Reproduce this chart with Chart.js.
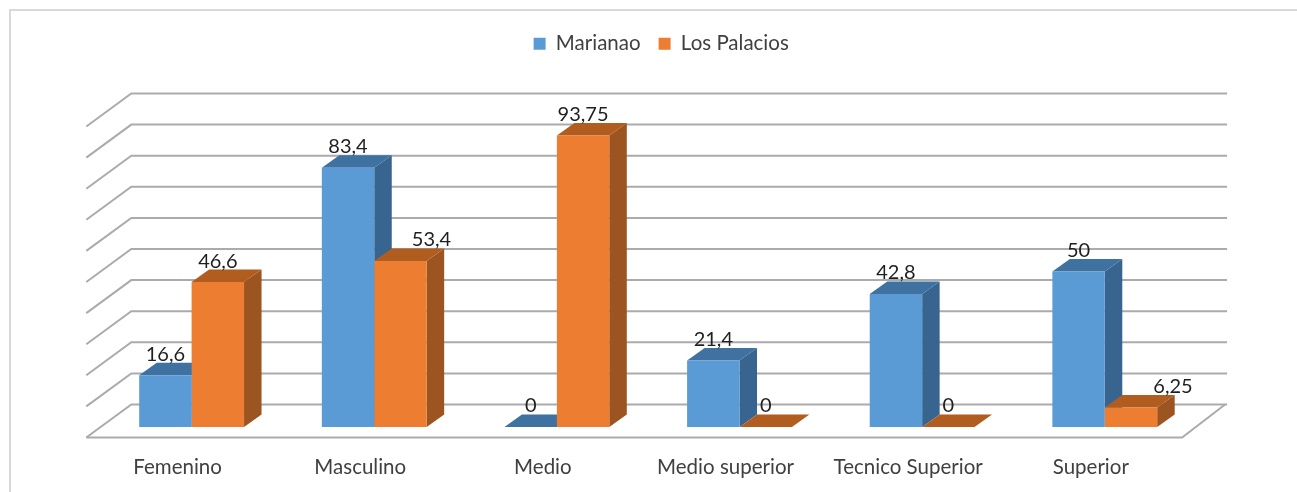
<!DOCTYPE html>
<html>
<head>
<meta charset="utf-8">
<title>Marianao / Los Palacios</title>
<script src="https://cdn.jsdelivr.net/npm/chart.js@4"></script>
<style>
  html, body { margin: 0; background: #fff; }
  canvas { display: block; }
</style>
</head>
<body>
<canvas id="myChart" width="1297" height="492"></canvas>
<script>
const categories = ["Femenino", "Masculino", "Medio", "Medio superior", "Tecnico Superior", "Superior"];
const marianao = [16.6, 83.4, 0, 21.4, 42.8, 50];
const losPalacios = [46.6, 53.4, 93.75, 0, 0, 6.25];
const yTicks = [0, 10, 20, 30, 40, 50, 60, 70, 80, 90, 100];

// faces of the 3D look
const blue = { front: "#5b9bd5", side: "#38658f", top: "#3f71a1" };
const orange = { front: "#ed7d31", side: "#9c5420", top: "#b15d20" };
const faces = [blue, orange];
const barDx = 17.5, barDy = 12.5;
const padTop = 15.5;

// these two labels were dragged to the right in the original
const labelShift = { 53.4: 31, 6.25: 42 };

function poly(ctx, pts, color) {
  ctx.fillStyle = color;
  ctx.beginPath();
  pts.forEach((p, i) => (i ? ctx.lineTo(p[0], p[1]) : ctx.moveTo(p[0], p[1])));
  ctx.closePath();
  ctx.fill();
}

const plot3d = {
  id: "plot3d",
  beforeInit(chart) {
    // extra room under the legend
    const fit = chart.legend.fit;
    chart.legend.fit = function () {
      fit.call(this);
      this.height = 116 - padTop;
    };
  },
  afterLayout(chart) {
    // legend is not centred on the page in the original
    chart.legend.left += 13;
    chart.legend.right += 13;
  },
  beforeDatasetsDraw(chart) {
    const ctx = chart.ctx, area = chart.chartArea, y = chart.scales.y;
    ctx.save();

    // outer frame
    ctx.strokeStyle = "#d9d9d9";
    ctx.lineWidth = 2;
    ctx.beginPath();
    ctx.moveTo(10, 492);
    ctx.lineTo(10, 10);
    ctx.lineTo(1297, 10);
    ctx.stroke();

    // walls and floor
    const fl = area.left - 14, fr = area.right - 14;
    const bl = area.left + 31, br = area.right + 31;
    ctx.strokeStyle = "#ababab";
    ctx.lineWidth = 2;
    yTicks.forEach(t => {
      const py = y.getPixelForValue(t);
      ctx.beginPath();
      ctx.moveTo(fl, py + 10.5);
      ctx.lineTo(bl, py - 22.5);
      ctx.lineTo(br, py - 22.5);
      ctx.stroke();
    });
    const y0 = y.getPixelForValue(0);
    ctx.beginPath();
    ctx.moveTo(fl, y0 + 10.5);
    ctx.lineTo(fr, y0 + 10.5);
    ctx.lineTo(br - 2, y0 - 22.5);
    ctx.stroke();

    // side and top faces, the front faces are the real bars
    chart.data.datasets.forEach((ds, i) => {
      chart.getDatasetMeta(i).data.forEach(bar => {
        const l = bar.x - bar.width / 2, r = bar.x + bar.width / 2;
        poly(ctx, [[r, bar.y], [r + barDx, bar.y - barDy], [r + barDx, bar.base - barDy], [r, bar.base]], faces[i].side);
        poly(ctx, [[l, bar.y], [l + barDx, bar.y - barDy], [r + barDx, bar.y - barDy], [r, bar.y]], faces[i].top);
      });
    });
    ctx.restore();
  },
  afterDatasetsDraw(chart) {
    const ctx = chart.ctx;
    ctx.save();
    ctx.font = "20px Lato";
    ctx.fillStyle = "#1f1f1f";
    ctx.textAlign = "center";
    ctx.textBaseline = "middle";
    chart.data.datasets.forEach((ds, i) => {
      chart.getDatasetMeta(i).data.forEach((bar, j) => {
        const v = ds.data[j];
        ctx.fillText(String(v).replace(".", ","), bar.x + (labelShift[v] || 0), bar.y - 21);
      });
    });
    ctx.restore();
  }
};

const ctx = document.getElementById("myChart").getContext("2d");

new Chart(ctx, {
  type: "bar",
  data: {
    labels: categories,
    datasets: [
      { label: "Marianao", data: marianao, backgroundColor: blue.front },
      { label: "Los Palacios", data: losPalacios, backgroundColor: orange.front },
    ],
  },
  options: {
    responsive: false,
    animation: false,
    layout: { padding: { left: 100.3, right: 100.9, top: padTop } },
    categoryPercentage: 0.574,
    barPercentage: 1,
    plugins: {
      tooltip: { enabled: false },
      legend: {
        position: "top",
        onClick: null,
        labels: {
          boxWidth: 12,
          boxHeight: 12,
          padding: 18,
          color: "#404040",
          font: { family: "Lato", size: 20.5 },
        },
      },
    },
    scales: {
      x: {
        grid: { display: false },
        border: { display: false },
        afterFit(s) { s.height = 65; },
        ticks: {
          color: "#404040",
          font: { family: "Lato", size: 20.5 },
          padding: 20.5,
          labelOffset: -14,
          autoSkip: false,
          maxRotation: 0,
        },
      },
      y: {
        min: 0,
        max: 100,
        grid: { display: false, drawTicks: false },
        border: { display: false },
        afterFit(s) { s.width = 0; },
        ticks: { display: false, stepSize: 10 },
      },
    },
  },
  plugins: [plot3d],
});
</script>
</body>
</html>
